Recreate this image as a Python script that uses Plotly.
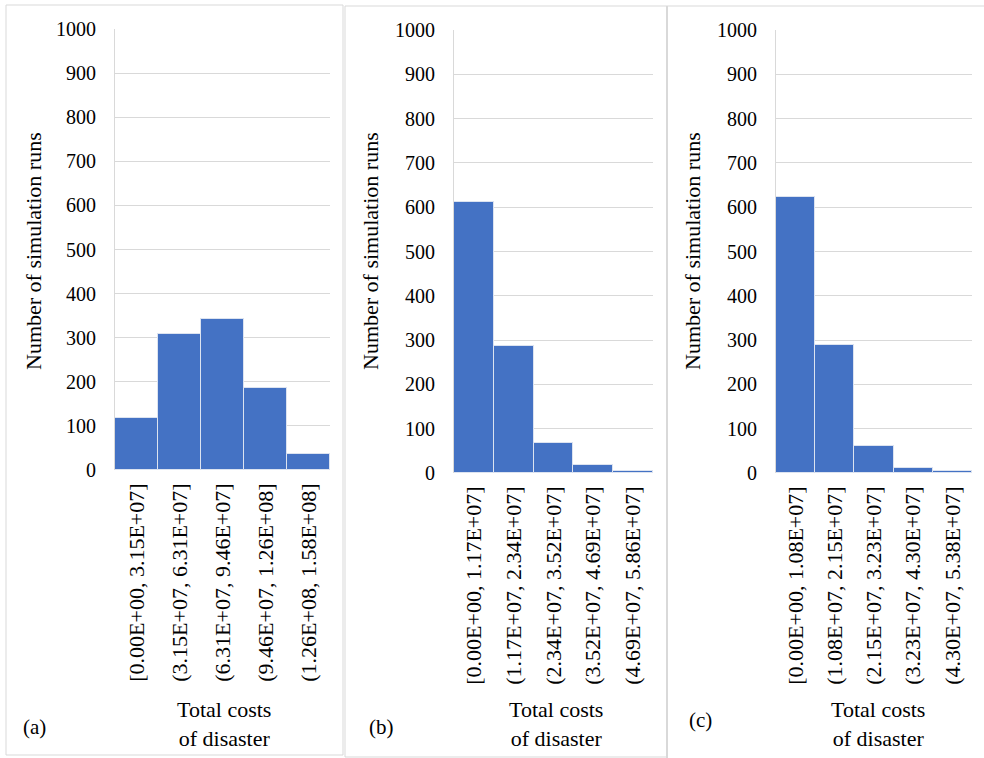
import plotly.graph_objects as go

W, H = 984, 758

cats_a = ["[0.00E+00, 3.15E+07]", "(3.15E+07, 6.31E+07]", "(6.31E+07, 9.46E+07]",
          "(9.46E+07, 1.26E+08]", "(1.26E+08, 1.58E+08]"]
cats_b = ["[0.00E+00, 1.17E+07]", "(1.17E+07, 2.34E+07]", "(2.34E+07, 3.52E+07]",
          "(3.52E+07, 4.69E+07]", "(4.69E+07, 5.86E+07]"]
cats_c = ["[0.00E+00, 1.08E+07]", "(1.08E+07, 2.15E+07]", "(2.15E+07, 3.23E+07]",
          "(3.23E+07, 4.30E+07]", "(4.30E+07, 5.38E+07]"]
vals_a = [118, 308, 342, 187, 37]
vals_b = [611, 287, 67, 17, 5]
vals_c = [622, 288, 61, 11, 4]
y_ticks = [0, 100, 200, 300, 400, 500, 600, 700, 800, 900, 1000]
panel_labels = ["(a)", "(b)", "(c)"]
x_title = "Total costs<br>of disaster"
y_title = "Number of simulation runs"

FONT = '"Liberation Serif", "Times New Roman", Times, serif'
BLUE = "#4472C4"
GRID = "#D9D9D9"

def px_x(x):
    return x / W

def px_y(y):
    return 1 - y / H

# pixel layout of each panel: (x0, x1, y_top(1000), y_bottom(0))
panels = [(115, 330, 29, 470), (454, 653, 30, 473), (776, 972, 30, 473)]
datasets = [(cats_a, vals_a), (cats_b, vals_b), (cats_c, vals_c)]

fig = go.Figure()
layout = dict(
    width=W, height=H,
    margin=dict(l=0, r=0, t=0, b=0, autoexpand=False),
    paper_bgcolor="white", plot_bgcolor="white",
    showlegend=False,
    bargap=0,
    font=dict(family=FONT, size=22, color="black"),
)

for i, ((x0, x1, yt, yb), (cats, vals)) in enumerate(zip(panels, datasets)):
    n = "" if i == 0 else str(i + 1)
    fig.add_trace(go.Bar(
        x=cats, y=vals, xaxis="x" + n, yaxis="y" + n,
        marker=dict(color=BLUE, line=dict(color="#DCE3F0", width=1)),
    ))
    layout["xaxis" + n] = dict(
        domain=[px_x(x0), px_x(x1)], anchor="y" + n,
        type="category", range=[-0.5, 4.5],
        tickangle=-90, showgrid=False, showline=False, zeroline=False,
        ticks="", ticklabelstandoff=8, automargin=False,
        tickfont=dict(family=FONT, size=22, color="black"),
        fixedrange=True,
    )
    layout["yaxis" + n] = dict(
        domain=[px_y(yb), px_y(yt)], anchor="x" + n,
        range=[0, 1000], tickvals=y_ticks,
        showgrid=True, gridcolor=GRID, gridwidth=1,
        showline=True, linecolor=GRID, linewidth=1,
        zeroline=False, ticks="", ticklabelstandoff=14, automargin=False,
        tickfont=dict(family=FONT, size=20, color="black"),
        fixedrange=True,
    )

fig.update_layout(**layout)

# axis titles and panel labels
ytitle_x = [33, 370, 692]
xtitle_x = [224, 556, 878]
plab = [(34, 727), (381, 727), (700, 720)]
for i in range(3):
    fig.add_annotation(text=y_title, x=px_x(ytitle_x[i]), y=px_y(251),
                       xref="paper", yref="paper", textangle=-90, showarrow=False,
                       font=dict(family=FONT, size=22, color="black"),
                       xanchor="center", yanchor="middle")
    fig.add_annotation(text=x_title, x=px_x(xtitle_x[i]), y=px_y(724),
                       xref="paper", yref="paper", showarrow=False,
                       font=dict(family=FONT, size=22, color="black"),
                       xanchor="center", yanchor="middle", align="center")
    fig.add_annotation(text=panel_labels[i], x=px_x(plab[i][0]), y=px_y(plab[i][1]),
                       xref="paper", yref="paper", showarrow=False,
                       font=dict(family=FONT, size=21, color="black"),
                       xanchor="center", yanchor="middle")

# panel frames
BORDER = "#D9D9D9"
def line(x0, y0, x1, y1, w=1, c=BORDER):
    fig.add_shape(type="line", xref="paper", yref="paper",
                  x0=px_x(x0), y0=px_y(y0), x1=px_x(x1), y1=px_y(y1),
                  line=dict(color=c, width=w))

line(6, 5, 343, 5)
line(6, 5, 6, 755)
line(6, 755, 343, 755)
line(343, 5, 343, 755)
line(345, 6, 984, 6)
line(345, 6, 345, 757)
line(345, 757, 667, 757)
line(667, 6, 667, 758, w=2)

fig.write_html(
    "out.html",
    config={"displayModeBar": False},
    post_script="document.body.style.margin='0';document.body.style.padding='0';document.body.style.overflow='hidden';",
)
